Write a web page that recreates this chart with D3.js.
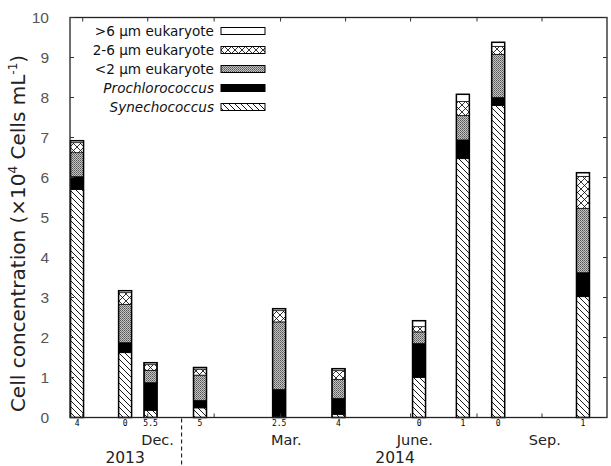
<!DOCTYPE html>
<html>
<head>
<meta charset="utf-8">
<script src="https://cdn.jsdelivr.net/npm/d3@7"></script>
<style>
  body { margin: 0; background: #fff; }
  svg { display: block; }
</style>
</head>
<body>
<div id="chart"></div>
<script>
// sampling dates, one bar each
const sampleDates = ["2013-10-19", "2013-11-22", "2013-12-10", "2014-01-14", "2014-03-11",
                     "2014-04-22", "2014-06-18", "2014-07-19", "2014-08-13", "2014-10-12"];
// little numbers printed under each bar
const sampleNotes = ["4", "0", "5.5", "5", "2.5", "4", "0", "1", "0", "1"];

// cell concentration, x10^4 cells/mL, per group
const synechococcus   = [5.70, 1.62, 0.18, 0.24, 0.03, 0.08, 1.00, 6.47, 7.80, 3.02];
const prochlorococcus = [0.32, 0.25, 0.69, 0.19, 0.67, 0.40, 0.85, 0.47, 0.20, 0.60];
const euk_small       = [0.60, 0.96, 0.31, 0.63, 1.69, 0.47, 0.29, 0.61, 1.08, 1.61];
const euk_mid         = [0.25, 0.29, 0.14, 0.15, 0.28, 0.22, 0.13, 0.35, 0.20, 0.80];
const euk_large       = [0.05, 0.05, 0.05, 0.04, 0.05, 0.05, 0.15, 0.18, 0.10, 0.09];

const groups = ["syn", "pro", "small", "mid", "large"];
const groupLabels = {
  large: ">6 \u00b5m eukaryote",
  mid: "2-6 \u00b5m eukaryote",
  small: "<2 \u00b5m eukaryote",
  pro: "Prochlorococcus",
  syn: "Synechococcus"
};

const yTicks = [0, 1, 2, 3, 4, 5, 6, 7, 8, 9, 10];
const xTickDates = ["2013-10-23", "2013-12-08", "2014-01-24", "2014-03-12", "2014-04-27",
                    "2014-06-12", "2014-07-29", "2014-09-13"];
const monthLabels = [["2013-12-15", "Dec."], ["2014-03-16", "Mar."], ["2014-06-15", "June."], ["2014-09-15", "Sep."]];
const yearLabels = [["2013-11-22", "2013"], ["2014-06-01", "2014"]];
const yearBreak = "2014-01-01";

const parse = d3.timeParse("%Y-%m-%d");

const width = 611, height = 466;
const margin = {top: 17.5, right: 4, bottom: 48.5, left: 70};

const table = sampleDates.map((d, i) => ({
  date: parse(d), note: sampleNotes[i],
  syn: synechococcus[i], pro: prochlorococcus[i], small: euk_small[i], mid: euk_mid[i], large: euk_large[i]
}));

const stacked = d3.stack().keys(groups)(table);

const x = d3.scaleTime()
    .domain([parse("2013-10-14"), parse("2014-10-29")])
    .range([margin.left, width - margin.right]);
const y = d3.scaleLinear()
    .domain([0, 10])
    .range([height - margin.bottom, margin.top]);

const svg = d3.select("#chart").append("svg")
    .attr("width", width)
    .attr("height", height);

// fill patterns
const defs = svg.append("defs");

const hatch = defs.append("pattern")
    .attr("id", "p-syn").attr("patternUnits", "userSpaceOnUse")
    .attr("width", 6).attr("height", 6);
hatch.append("rect").attr("width", 6).attr("height", 6).attr("fill", "#fff");
hatch.append("path").attr("d", "M-1,-1 L7,7 M-1,5 L1,7 M5,-1 L7,1")
    .attr("stroke", "#000").attr("stroke-width", 0.9);

const dots = defs.append("pattern")
    .attr("id", "p-small").attr("patternUnits", "userSpaceOnUse")
    .attr("width", 2).attr("height", 2);
dots.append("rect").attr("width", 2).attr("height", 2).attr("fill", "#c4c4c4");
dots.append("rect").attr("width", 1).attr("height", 1).attr("fill", "#555");
dots.append("rect").attr("x", 1).attr("y", 1).attr("width", 1).attr("height", 1).attr("fill", "#777");

const cross = defs.append("pattern")
    .attr("id", "p-mid").attr("patternUnits", "userSpaceOnUse")
    .attr("width", 7).attr("height", 7);
cross.append("rect").attr("width", 7).attr("height", 7).attr("fill", "#fff");
cross.append("path").attr("d", "M0,0 L7,7 M7,0 L0,7")
    .attr("stroke", "#000").attr("stroke-width", 0.8);

const fills = {syn: "url(#p-syn)", pro: "#000", small: "url(#p-small)", mid: "url(#p-mid)", large: "#fff"};

// bars
const barW = 13;
const bars = svg.append("g");
bars.selectAll("g")
  .data(stacked)
  .join("g")
    .attr("fill", d => fills[d.key])
  .selectAll("rect")
  .data(d => d)
  .join("rect")
    .attr("x", d => x(d.data.date) - barW / 2)
    .attr("y", d => y(d[1]))
    .attr("width", barW)
    .attr("height", d => y(d[0]) - y(d[1]))
    .attr("stroke", "#000")
    .attr("stroke-width", 0.7);

// outline around each whole bar
bars.selectAll(".outline")
  .data(table)
  .join("rect")
    .attr("class", "outline")
    .attr("x", d => x(d.date) - barW / 2)
    .attr("y", d => y(d.syn + d.pro + d.small + d.mid + d.large))
    .attr("width", barW)
    .attr("height", d => y(0) - y(d.syn + d.pro + d.small + d.mid + d.large))
    .attr("fill", "none")
    .attr("stroke", "#000")
    .attr("stroke-width", 1.5);

// frame and ticks
const x0 = margin.left, x1 = width - margin.right, yb = y(0), yt = y(10);
const frame = svg.append("g").attr("stroke", "#222").attr("stroke-width", 1.3).attr("fill", "none");
frame.append("rect").attr("x", x0).attr("y", yt).attr("width", x1 - x0).attr("height", yb - yt);

const tickG = svg.append("g").attr("stroke", "#333").attr("stroke-width", 1);
tickG.selectAll(".yl").data(yTicks).join("line")
    .attr("x1", x0).attr("x2", x0 + 4).attr("y1", d => y(d)).attr("y2", d => y(d));
tickG.selectAll(".yr").data(yTicks).join("line")
    .attr("x1", x1).attr("x2", x1 - 4).attr("y1", d => y(d)).attr("y2", d => y(d));
tickG.selectAll(".xt").data(xTickDates).join("line")
    .attr("x1", d => x(parse(d))).attr("x2", d => x(parse(d)))
    .attr("y1", yt).attr("y2", yt + 4);
tickG.selectAll(".xb").data(xTickDates).join("line")
    .attr("x1", d => x(parse(d))).attr("x2", d => x(parse(d)))
    .attr("y1", yb).attr("y2", yb - 4);

// y tick labels
svg.append("g")
  .selectAll("text")
  .data(yTicks)
  .join("text")
    .attr("x", 49)
    .attr("y", d => y(d))
    .attr("dy", "0.35em")
    .attr("text-anchor", "end")
    .attr("font-family", "Liberation Sans, Arial, sans-serif")
    .attr("font-size", 15.5)
    .attr("fill", "#555")
    .text(d => d);

// y title
svg.append("text")
    .attr("transform", `translate(25,${(yb + yt) / 2 + 16}) rotate(-90)`)
    .attr("text-anchor", "middle")
    .attr("font-family", "DejaVu Sans, sans-serif")
    .attr("font-size", 20)
    .attr("fill", "#222")
    .call(t => {
      t.append("tspan").text("Cell concentration (\u00d710");
      t.append("tspan").attr("font-size", 12).attr("dy", -8).text("4");
      t.append("tspan").attr("dy", 8).text(" Cells mL");
      t.append("tspan").attr("font-size", 12).attr("dy", -8).text("-1");
      t.append("tspan").attr("dy", 8).text(")");
    });

// numbers under bars
svg.append("g")
  .selectAll("text")
  .data(table)
  .join("text")
    .attr("x", d => x(d.date))
    .attr("y", yb + 8)
    .attr("text-anchor", "middle")
    .attr("font-family", "DejaVu Sans Mono, monospace")
    .attr("font-size", 8)
    .attr("fill", "#000")
    .text(d => d.note);

// months and years
svg.append("g")
  .selectAll("text")
  .data(monthLabels)
  .join("text")
    .attr("x", d => x(parse(d[0])))
    .attr("y", 445)
    .attr("text-anchor", "middle")
    .attr("font-family", "DejaVu Sans, sans-serif")
    .attr("font-size", 14.5)
    .attr("fill", "#222")
    .text(d => d[1]);

svg.append("g")
  .selectAll("text")
  .data(yearLabels)
  .join("text")
    .attr("x", d => x(parse(d[0])))
    .attr("y", 463)
    .attr("text-anchor", "middle")
    .attr("font-family", "DejaVu Sans, sans-serif")
    .attr("font-size", 15.5)
    .attr("fill", "#222")
    .text(d => d[1]);

svg.append("line")
    .attr("x1", x(parse(yearBreak))).attr("x2", x(parse(yearBreak)))
    .attr("y1", yb + 1).attr("y2", height)
    .attr("stroke", "#000").attr("stroke-width", 1)
    .attr("stroke-dasharray", "4,3");

// legend
const legendOrder = ["large", "mid", "small", "pro", "syn"];
const leg = svg.append("g");
const row = leg.selectAll("g")
  .data(legendOrder)
  .join("g")
    .attr("transform", (d, i) => `translate(214,${31 + i * 19})`);
row.append("text")
    .attr("x", 0)
    .attr("dy", "0.35em")
    .attr("text-anchor", "end")
    .attr("font-family", "DejaVu Sans, sans-serif")
    .attr("font-size", 13.6)
    .attr("font-style", d => (d === "pro" || d === "syn") ? "italic" : "normal")
    .attr("fill", "#111")
    .text(d => groupLabels[d]);
row.append("rect")
    .attr("x", 7)
    .attr("y", -3.5)
    .attr("width", 44)
    .attr("height", 7)
    .attr("fill", d => fills[d])
    .attr("stroke", "#000")
    .attr("stroke-width", 1);
</script>
</body>
</html>
